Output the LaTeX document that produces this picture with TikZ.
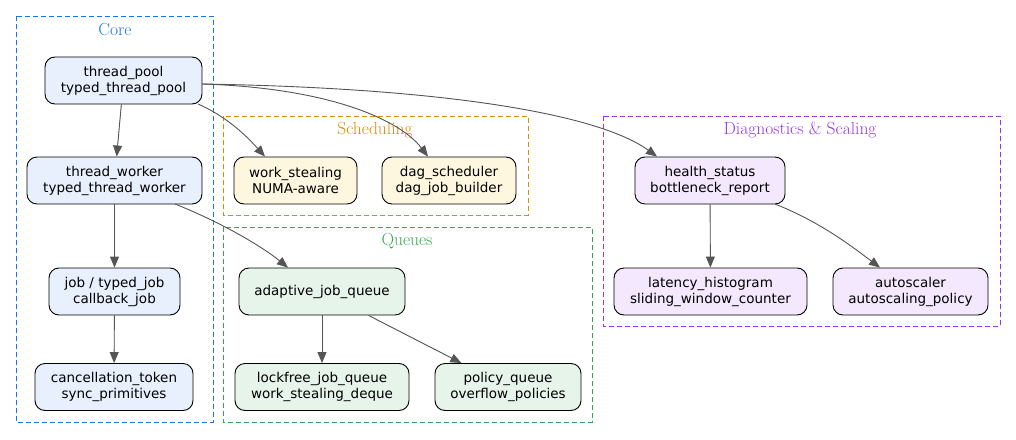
\documentclass[tikz,border=0pt]{standalone}
\usepackage{fontspec}
\setsansfont{DejaVu Sans}
\usetikzlibrary{arrows.meta}
\definecolor{cblue}{HTML}{1A73E8}\definecolor{corange}{HTML}{E08A00}
\definecolor{cgreen}{HTML}{34A853}\definecolor{cpurple}{HTML}{9334E6}
\definecolor{fblue}{HTML}{E8F0FD}\definecolor{fyellow}{HTML}{FEF7DF}
\definecolor{fgreen}{HTML}{E6F4EA}\definecolor{fpurple}{HTML}{F3E8FD}
\definecolor{edge}{HTML}{555555}
\begin{document}
\begin{tikzpicture}[x=1pt,y=-1pt,
 box/.style={draw=black,line width=0.9pt,rounded corners=10pt,minimum height=47pt,align=center,inner sep=0pt,font=\sffamily\fontsize{13.5}{16}\selectfont},
 cl/.style={dashed,dash pattern=on 5pt off 3pt,line width=0.9pt},
 lab/.style={font=\fontsize{17.5}{19}\selectfont},
 e/.style={draw=edge,line width=0.9pt,-{Triangle[length=11pt,width=9pt]},fill=none}]
\useasboundingbox (0,0) rectangle (1016,439);
\draw[cl,cblue] (16,16) rectangle (213,422); \node[lab,text=cblue] at (115,30) {Core};
\draw[cl,corange] (223,116) rectangle (528,215); \node[lab,text=corange] at (375,130) {Scheduling};
\draw[cl,cgreen] (223,227) rectangle (592,422); \node[lab,text=cgreen] at (407,241) {Queues};
\draw[cl,cpurple] (603,116) rectangle (1000,326); \node[lab,text=cpurple] at (800,130) {Diagnostics \& Scaling};
\node[box,fill=fblue,minimum width=157pt] (tp) at (123.5,80.5) {thread\_pool\\typed\_thread\_pool};
\node[box,fill=fblue,minimum width=175pt] (tw) at (114.5,180.5) {thread\_worker\\typed\_thread\_worker};
\node[box,fill=fblue,minimum width=131pt] (job) at (114.5,291.5) {job / typed\_job\\callback\_job};
\node[box,fill=fblue,minimum width=158pt] (ct) at (114,387) {cancellation\_token\\sync\_primitives};
\node[box,fill=fyellow,minimum width=123pt] (ws) at (295.5,180.5) {work\_stealing\\NUMA-aware};
\node[box,fill=fyellow,minimum width=134pt] (dag) at (449,180.5) {dag\_scheduler\\dag\_job\_builder};
\node[box,fill=fgreen,minimum width=166pt] (aq) at (322,291.5) {adaptive\_job\_queue};
\node[box,fill=fgreen,minimum width=174pt] (lf) at (322,387) {lockfree\_job\_queue\\work\_stealing\_deque};
\node[box,fill=fgreen,minimum width=146pt] (pq) at (508,387) {policy\_queue\\overflow\_policies};
\node[box,fill=fpurple,minimum width=150pt] (hs) at (710,180.5) {health\_status\\bottleneck\_report};
\node[box,fill=fpurple,minimum width=193pt] (lh) at (710.5,291.5) {latency\_histogram\\sliding\_window\_counter};
\node[box,fill=fpurple,minimum width=155pt] (as) at (910.5,291.5) {autoscaler\\autoscaling\_policy};
\coordinate (tpE) at (202,84);
\coordinate (tpS) at (198,104);
\coordinate (twS) at (175,204);
\coordinate (hsS) at (775,204);
\draw[e,fill=edge] (tp) -- (tw);
\draw[e,fill=edge] (tw) -- (job);
\draw[e,fill=edge] (job) -- (ct);
\draw[e,fill=edge] (aq) -- (lf);
\draw[e,fill=edge] (aq) -- (pq);
\draw[e,fill=edge] (hs) -- (lh);
\draw[e] (hsS) .. controls (820,222) and (850,245) .. (as.north -| 880,0);
\draw[e] (tpS) .. controls (230,118) and (250,140) .. (ws.north -| 265,0);
\draw[e] (tpE) .. controls (330,88) and (400,120) .. (dag.north -| 428,0);
\draw[e] (tpE) .. controls (450,88) and (600,115) .. (hs.north -| 657,0);
\draw[e] (twS) .. controls (220,222) and (260,245) .. (aq.north -| 288,0);
\end{tikzpicture}
\end{document}
